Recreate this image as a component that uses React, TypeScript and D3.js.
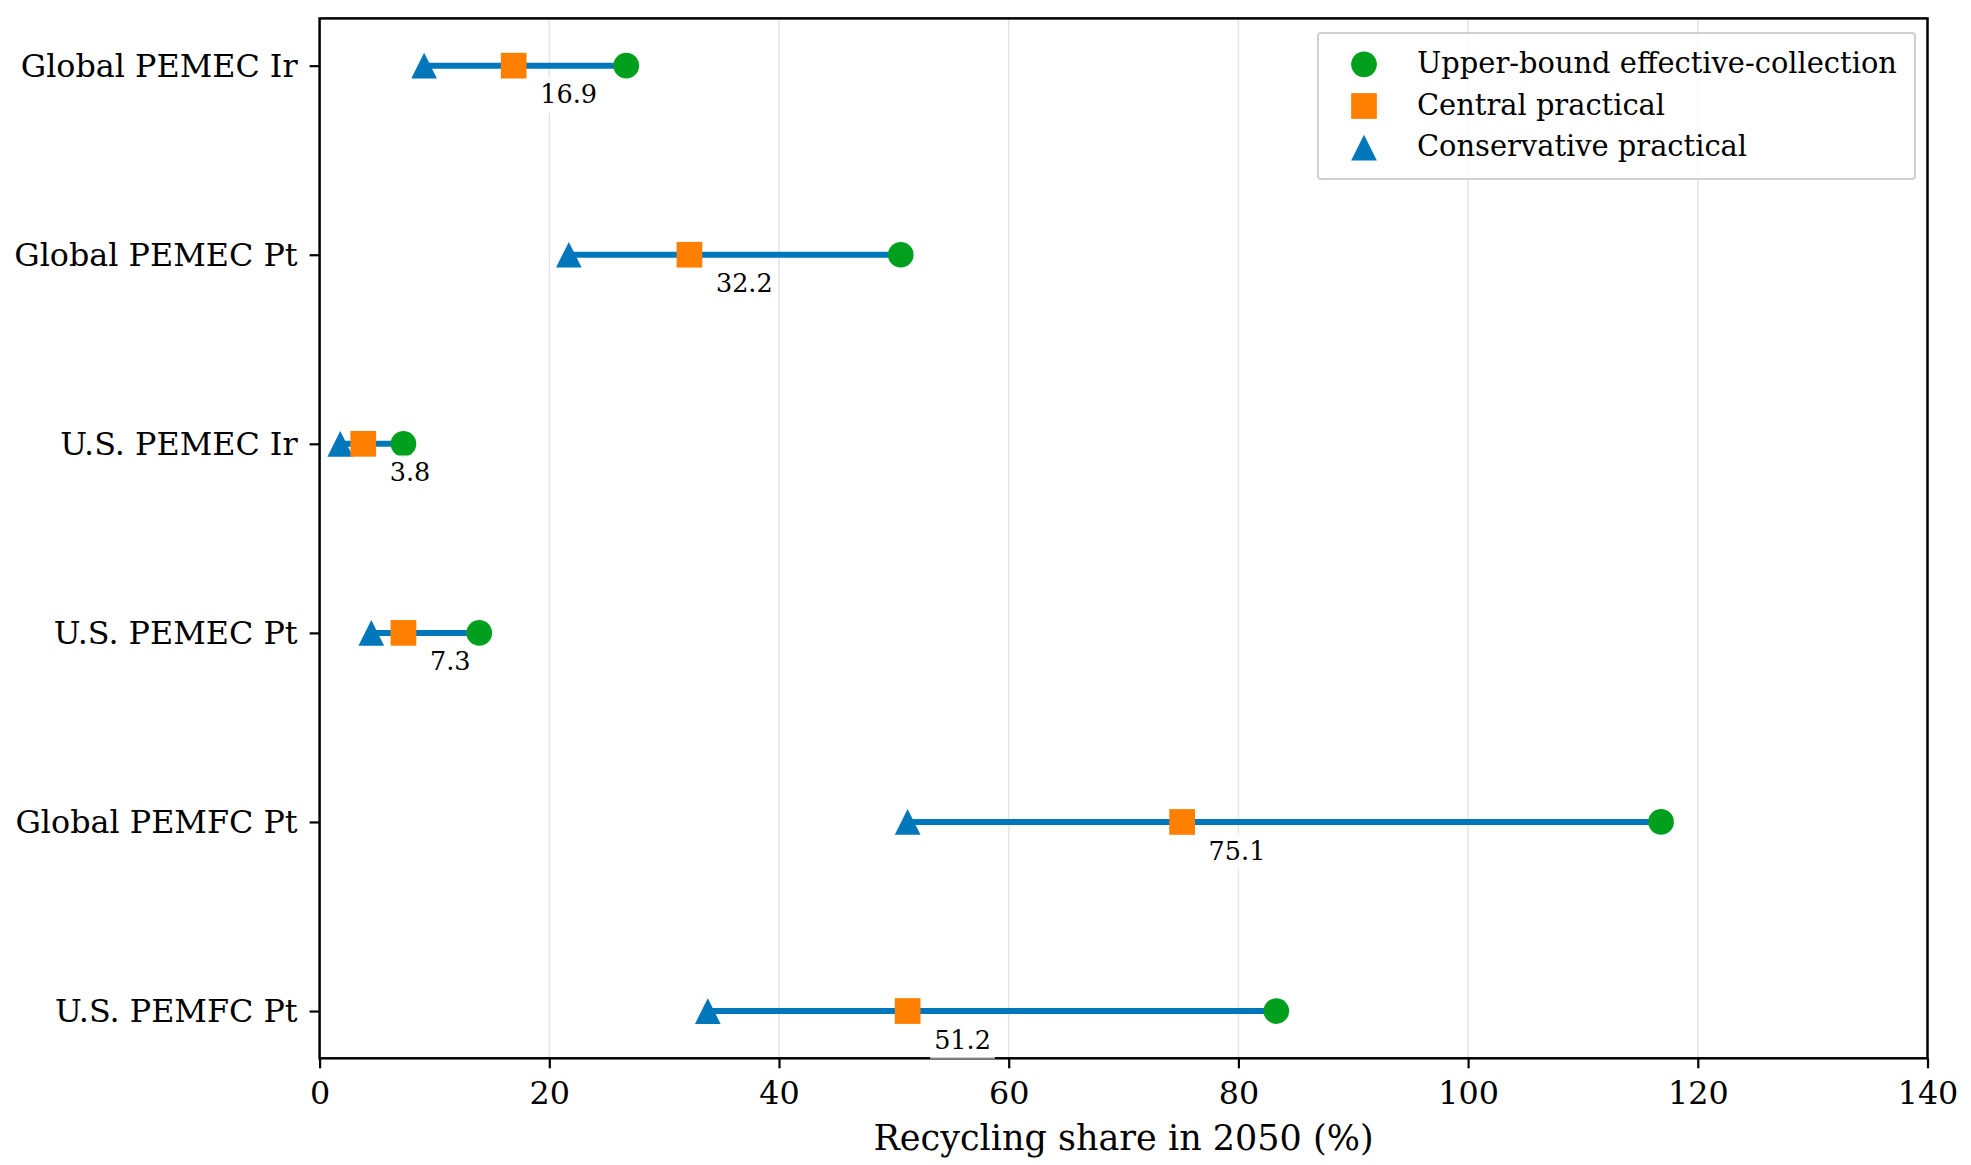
import { useRef, useEffect } from 'react';
import * as d3 from 'd3';

// categories, top to bottom
const categories = [
  'Global PEMEC Ir',
  'Global PEMEC Pt',
  'U.S. PEMEC Ir',
  'U.S. PEMEC Pt',
  'Global PEMFC Pt',
  'U.S. PEMFC Pt',
];

// recycling share in 2050 (%)
const upperBound = [26.7, 50.6, 7.3, 13.9, 116.8, 83.3];
const centralPractical = [16.9, 32.2, 3.8, 7.3, 75.1, 51.2];
const conservativePractical = [9.1, 21.7, 1.8, 4.5, 51.2, 33.8];

const xTicks = [0, 20, 40, 60, 80, 100, 120, 140];

const legendItems = [
  { label: 'Upper-bound effective-collection', shape: 'circle', color: '#00a01e' },
  { label: 'Central practical', shape: 'square', color: '#ff7f00' },
  { label: 'Conservative practical', shape: 'triangle', color: '#0077bb' },
];

const WIDTH = 1971;
const HEIGHT = 1165;
const FONT = '"DejaVu Serif", serif';

function App() {
  const ref = useRef<SVGSVGElement | null>(null);

  useEffect(() => {
    const svg = d3.select(ref.current);
    svg.selectAll('*').remove();

    const margin = { left: 319.6, right: 1927.5, top: 18.4, bottom: 1058.3 };

    const x = d3.scaleLinear().domain([0, 140]).range([margin.left, margin.right]);
    // row 0 at the top
    const y = d3
      .scaleLinear()
      .domain([-0.25, categories.length - 0.75])
      .range([margin.top, margin.bottom]);

    const ms = 25.7;
    const h = ms / 2;
    // matplotlib-like markers: width and height both equal to the marker size
    const markerPath = (shape: string) => {
      if (shape === 'circle') {
        const p = d3.path();
        p.arc(0, 0, h, 0, Math.PI * 2);
        return p.toString();
      }
      if (shape === 'square') return `M${-h},${-h}H${h}V${h}H${-h}Z`;
      return `M0,${-h}L${h},${h}L${-h},${h}Z`;
    };

    svg.append('rect').attr('width', WIDTH).attr('height', HEIGHT).attr('fill', '#fff');

    // grid
    svg
      .append('g')
      .selectAll('line')
      .data(xTicks)
      .join('line')
      .attr('x1', d => x(d))
      .attr('x2', d => x(d))
      .attr('y1', margin.top)
      .attr('y2', margin.bottom)
      .attr('stroke', '#e4e4e4')
      .attr('stroke-width', 1.5);

    // axes
    const xAxis = svg
      .append('g')
      .attr('transform', `translate(0,${margin.bottom})`)
      .call(
        d3
          .axisBottom(x)
          .tickValues(xTicks)
          .tickFormat(d => String(d))
          .tickSize(10)
          .tickSizeOuter(0)
          .tickPadding(13)
      );
    xAxis.select('.domain').remove();
    xAxis.selectAll('line').attr('stroke', '#000').attr('stroke-width', 2.2);
    xAxis
      .selectAll('text')
      .attr('font-family', FONT)
      .attr('font-size', 31.8)
      .attr('fill', '#000');

    const yAxis = svg
      .append('g')
      .attr('transform', `translate(${margin.left},0)`)
      .call(
        d3
          .axisLeft(y)
          .tickValues(d3.range(categories.length))
          .tickFormat(i => categories[i as number])
          .tickSize(10)
          .tickSizeOuter(0)
          .tickPadding(12)
      );
    yAxis.select('.domain').remove();
    yAxis.selectAll('line').attr('stroke', '#000').attr('stroke-width', 2.2);
    yAxis
      .selectAll('text')
      .attr('font-family', FONT)
      .attr('font-size', 31.8)
      .attr('fill', '#000')
      .attr('dy', '0.33em');

    // frame
    svg
      .append('rect')
      .attr('x', margin.left)
      .attr('y', margin.top)
      .attr('width', margin.right - margin.left)
      .attr('height', margin.bottom - margin.top)
      .attr('fill', 'none')
      .attr('stroke', '#000')
      .attr('stroke-width', 2.5);

    const plot = svg.append('g');

    // range lines
    plot
      .selectAll('line.range')
      .data(categories)
      .join('line')
      .attr('class', 'range')
      .attr('x1', (_, i) => x(conservativePractical[i]))
      .attr('x2', (_, i) => x(upperBound[i]))
      .attr('y1', (_, i) => y(i))
      .attr('y2', (_, i) => y(i))
      .attr('stroke', '#0077bb')
      .attr('stroke-width', 6);

    const drawMarkers = (values: number[], shape: string, color: string) => {
      plot
        .append('g')
        .selectAll('path')
        .data(values)
        .join('path')
        .attr('d', markerPath(shape))
        .attr('transform', (d, i) => `translate(${x(d)},${y(i)})`)
        .attr('fill', color);
    };
    drawMarkers(conservativePractical, 'triangle', '#0077bb');
    drawMarkers(centralPractical, 'square', '#ff7f00');
    drawMarkers(upperBound, 'circle', '#00a01e');

    // central value labels
    const labels = svg.append('g');
    centralPractical.forEach((v, i) => {
      const g = labels.append('g');
      const t = g
        .append('text')
        .attr('x', x(v) + 26.5)
        .attr('y', y(i) + 37.6)
        .attr('font-family', FONT)
        .attr('font-size', 25.5)
        .attr('fill', '#000')
        .text(v.toFixed(1));
      const bb = (t.node() as SVGTextElement).getBBox();
      const pad = 4;
      g.insert('rect', 'text')
        .attr('x', bb.x - pad)
        .attr('y', bb.y - pad + 2)
        .attr('width', bb.width + 2 * pad)
        .attr('height', bb.height + 2 * pad - 2)
        .attr('fill', '#fff')
        .attr('fill-opacity', 0.8);
    });

    // legend
    const legend = svg.append('g');
    legend
      .append('rect')
      .attr('x', 1318)
      .attr('y', 33)
      .attr('width', 597)
      .attr('height', 146)
      .attr('rx', 3)
      .attr('fill', '#fff')
      .attr('fill-opacity', 0.8)
      .attr('stroke', '#d0d0d0')
      .attr('stroke-width', 2);

    legendItems.forEach((item, i) => {
      const ly = 64.3 + i * 41.7;
      legend
        .append('path')
        .attr('d', markerPath(item.shape))
        .attr('transform', `translate(1364,${ly})`)
        .attr('fill', item.color);
      legend
        .append('text')
        .attr('x', 1417)
        .attr('y', ly + 8.5)
        .attr('font-family', FONT)
        .attr('font-size', 28.9)
        .attr('fill', '#000')
        .text(item.label);
    });

    // axis title
    svg
      .append('text')
      .attr('x', (margin.left + margin.right) / 2)
      .attr('y', 1150)
      .attr('text-anchor', 'middle')
      .attr('font-family', FONT)
      .attr('font-size', 35)
      .attr('fill', '#000')
      .text('Recycling share in 2050 (%)');
  }, []);

  return (
    <svg
      ref={ref}
      width={WIDTH}
      height={HEIGHT}
      style={{ position: 'absolute', left: 0, top: 0 }}
    ></svg>
  );
}

export default App;
